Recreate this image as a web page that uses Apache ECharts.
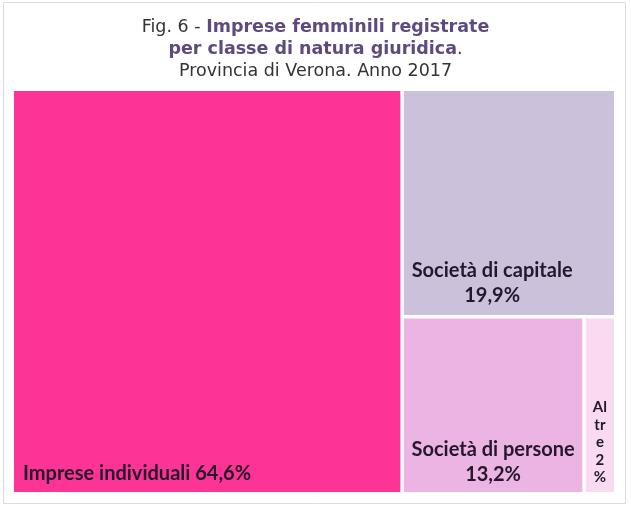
<!DOCTYPE html>
<html>
<head>
<meta charset="utf-8">
<script src="https://cdn.jsdelivr.net/npm/echarts@6/dist/echarts.min.js"></script>
<style>
html,body{margin:0;padding:0;background:#fff;}
#c{width:631px;height:509px;}
</style>
</head>
<body>
<div id="c"></div>
<script>
const categories = ['Imprese individuali', 'Società di capitale', 'Società di persone', 'Altre'];
const values = [64.6, 19.9, 13.2, 2.3];
const valueLabels = ['64,6%', '19,9%', '13,2%', '2%'];
const colors = ['#FE3396', '#CBC1DA', '#EBB4E3', '#F8DAF1'];

const labelColor = '#24182c';
const labelFont = 'Lato';

function labelFor(i) {
  const base = { show: true, color: labelColor, fontFamily: labelFont, fontWeight: 'bold', fontSize: 20, lineHeight: 25 };
  if (i === 0) {
    return Object.assign({}, base, {
      position: 'insideBottomLeft', distance: 0, padding: [0, 0, 6, 9],
      formatter: () => categories[0] + ' ' + valueLabels[0]
    });
  }
  if (i === 1) {
    return Object.assign({}, base, {
      position: ['42%', '99%'], align: 'center', verticalAlign: 'bottom',
      formatter: () => categories[1] + '\n' + valueLabels[1]
    });
  }
  if (i === 2) {
    return Object.assign({}, base, {
      position: 'insideBottom', distance: 0, padding: [0, 0, 5, 0],
      formatter: () => categories[2] + '\n' + valueLabels[2]
    });
  }
  return Object.assign({}, base, {
    fontSize: 15, lineHeight: 17.5, position: 'insideBottom', distance: 0, padding: [0, 0, 6, 0],
    formatter: () => {
      const n = categories[3];
      const parts = [];
      for (let k = 0; k < n.length; k += 2) parts.push(n.slice(k, k + 2));
      return parts.concat(valueLabels[3].split('')).join('\n');
    }
  });
}

const data = categories.map((c, i) => ({
  name: c,
  value: values[i],
  itemStyle: { color: colors[i], borderWidth: 0 },
  label: labelFor(i)
}));

const chart = echarts.init(document.getElementById('c'), null, { renderer: 'canvas' });
chart.setOption({
  backgroundColor: '#ffffff',
  animation: false,
  graphic: [{
    type: 'rect', silent: true, z: -1,
    shape: { x: 3.5, y: 2.5, width: 622, height: 501 },
    style: { fill: 'none', stroke: '#dcdcdc', lineWidth: 1 }
  }],
  title: {
    left: 'center', top: 11,
    text: '{n|Fig. 6 - }{b|Imprese femminili registrate}\n{b|per classe di natura giuridica}{n|.}\n{n|Provincia di Verona. Anno 2017}',
    textStyle: {
      fontWeight: 'normal',
      rich: {
        n: { fontFamily: 'DejaVu Sans', fontSize: 17.5, fontWeight: 'normal', color: '#333333', lineHeight: 22 },
        b: { fontFamily: 'DejaVu Sans', fontSize: 17.5, fontWeight: 'bold', color: '#5E4A7E', lineHeight: 22 }
      }
    }
  },
  series: [{
    type: 'treemap',
    left: 14, top: 91, width: 600, height: 401,
    roam: false, nodeClick: false,
    breadcrumb: { show: false },
    squareRatio: 1,
    itemStyle: { borderWidth: 0, gapWidth: 3, borderColor: '#ffffff' },
    levels: [{ itemStyle: { borderWidth: 0, gapWidth: 3.5, borderColor: '#ffffff' } }],
    data: data
  }]
});
</script>
</body>
</html>
